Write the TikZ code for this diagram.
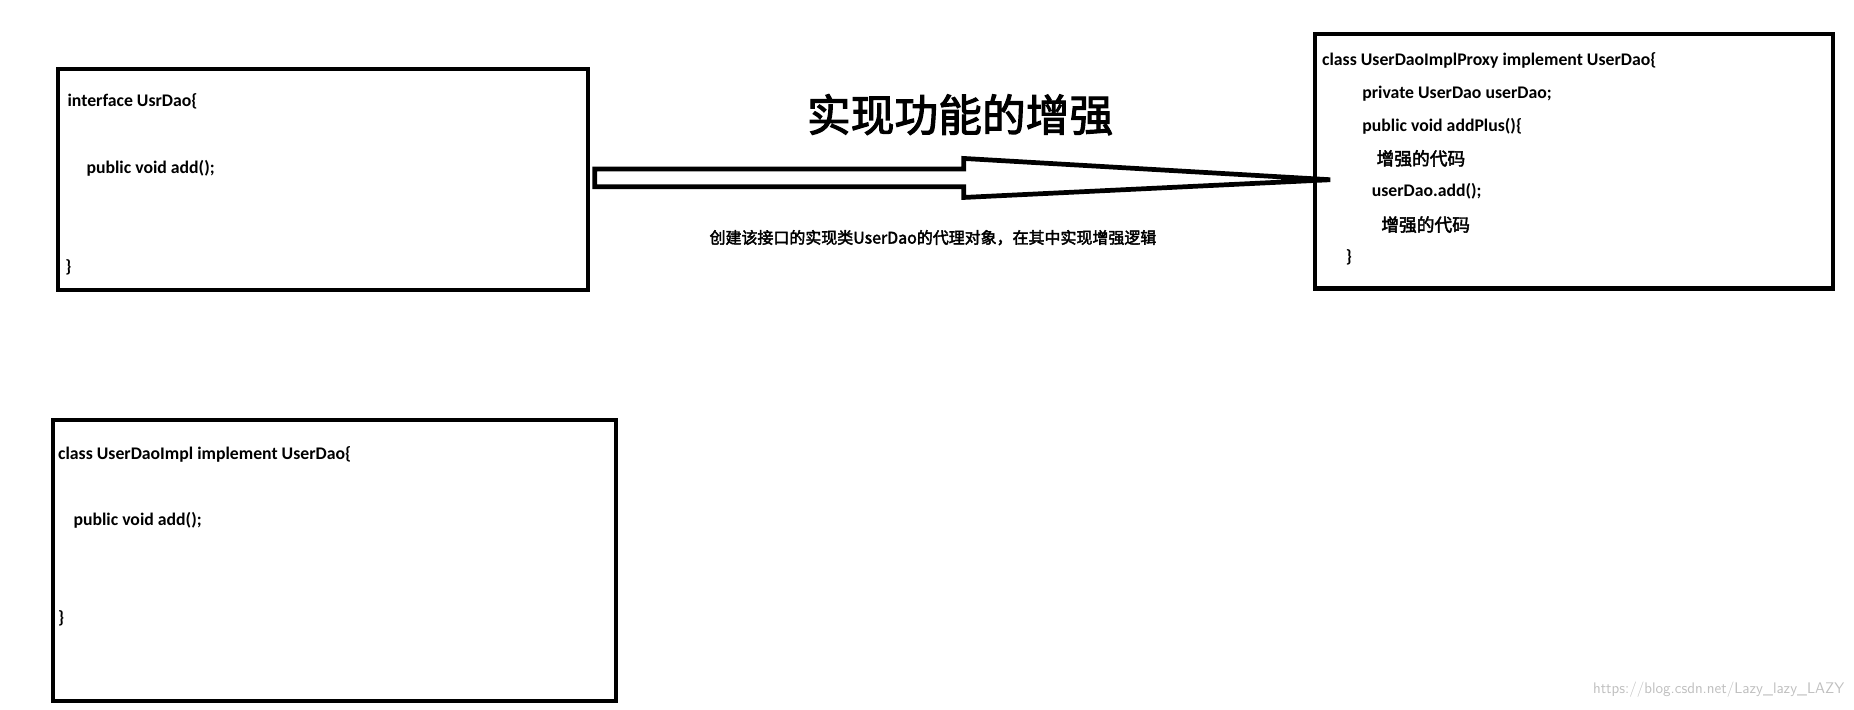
\documentclass[tikz,border=0pt]{standalone}
\usepackage{fontspec}
\setmainfont{Carlito}
\newfontfamily\cjk[AutoFakeBold=2.5]{Noto Sans CJK SC}
\begin{document}
\begin{tikzpicture}[x=1pt,y=-1pt,
  box/.style={draw,line width=3.5pt},
  code/.style={anchor=west,inner sep=0pt,font=\fontsize{15}{17}\selectfont\bfseries},
  zh/.style={anchor=west,inner sep=0pt,font=\fontsize{15}{17}\selectfont\cjk\bfseries}]
\useasboundingbox (0,0) rectangle (1568,600);
\draw[box] (49,58) rectangle (497,245);
\draw[box] (45,355) rectangle (521,593);
\draw[box] (1112,29) rectangle (1550,244);
\draw[line width=4pt,line join=miter] (503,143) -- (815,143) -- (815,134) -- (1125,152) -- (815,167) -- (815,158) -- (503,158) -- cycle;
\node (title) at (812,97) {\fontsize{37}{40}\selectfont\cjk\bfseries 实现功能的增强};
\node (sub) at (789,201) {\fontsize{13.5}{16}\selectfont\cjk\bfseries 创建该接口的实现类UserDao的代理对象，在其中实现增强逻辑};
\node[code] (a1) at (57,86) {interface UsrDao\{};
\node[code] (a2) at (73,142) {public void add();};
\node[code] (a3) at (55,226) {\}};
\node[code] (b1) at (49,384) {class UserDaoImpl implement UserDao\{};
\node[code] (b2) at (62,440) {public void add();};
\node[code] (b3) at (49,523) {\}};
\node[code] (c1) at (1118,51) {class UserDaoImplProxy implement UserDao\{};
\node[code] (c2) at (1152,79) {private UserDao userDao;};
\node[code] (c3) at (1152,107) {public void addPlus()\{};
\node[zh] (c4) at (1164,134) {增强的代码};
\node[code] (c5) at (1160,162) {userDao.add();};
\node[zh] (c6) at (1168,190) {增强的代码};
\node[code] (c7) at (1138,218) {\}};
\node[anchor=east,inner sep=0pt,text=black!25,font=\fontsize{13}{15}\selectfont\sffamily] (wm) at (1560,583) {https://blog.csdn.net/Lazy\_lazy\_LAZY};
\end{tikzpicture}
\end{document}
